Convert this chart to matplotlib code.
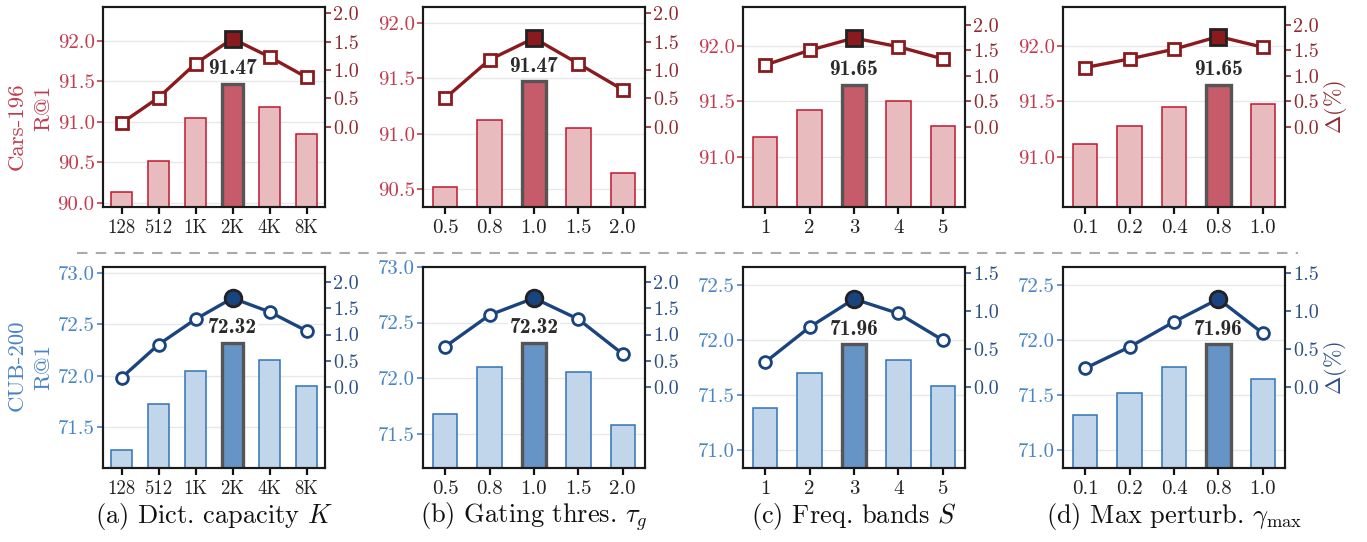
import matplotlib
matplotlib.use("Agg")
import matplotlib.pyplot as plt
from matplotlib.lines import Line2D
import numpy as np

plt.rcParams['font.family'] = ['cmr10', 'DejaVu Serif']
plt.rcParams['mathtext.fontset'] = 'cm'
plt.rcParams['axes.formatter.use_mathtext'] = True
plt.rcParams['axes.unicode_minus'] = False

# ---------------- data ----------------
xlabels_a = ['128', '512', '1K', '2K', '4K', '8K']
xlabels_b = ['0.5', '0.8', '1.0', '1.5', '2.0']
xlabels_c = ['1', '2', '3', '4', '5']
xlabels_d = ['0.1', '0.2', '0.4', '0.8', '1.0']

cars_r1_a = [90.13, 90.52, 91.05, 91.47, 91.18, 90.85]
cars_r1_b = [90.52, 91.12, 91.47, 91.05, 90.65]
cars_r1_c = [91.18, 91.42, 91.65, 91.50, 91.28]
cars_r1_d = [91.12, 91.28, 91.45, 91.65, 91.48]

cars_delta_a = [0.06, 0.51, 1.11, 1.55, 1.23, 0.87]
cars_delta_b = [0.50, 1.18, 1.56, 1.11, 0.65]
cars_delta_c = [1.21, 1.50, 1.74, 1.57, 1.33]
cars_delta_d = [1.16, 1.33, 1.52, 1.77, 1.56]

cub_r1_a = [71.28, 71.72, 72.05, 72.32, 72.15, 71.90]
cub_r1_b = [71.68, 72.10, 72.32, 72.05, 71.58]
cub_r1_c = [71.38, 71.70, 71.96, 71.82, 71.58]
cub_r1_d = [71.32, 71.52, 71.75, 71.96, 71.65]

cub_delta_a = [0.18, 0.81, 1.29, 1.69, 1.43, 1.07]
cub_delta_b = [0.77, 1.37, 1.69, 1.29, 0.63]
cub_delta_c = [0.33, 0.79, 1.16, 0.97, 0.62]
cub_delta_d = [0.25, 0.53, 0.86, 1.16, 0.71]

subtitles = [r'(a) Dict. capacity $K$', r'(b) Gating thres. $\tau_g$',
             r'(c) Freq. bands $S$', r'(d) Max perturb. $\gamma_{\max}$']

# ---------------- styles ----------------
RED = dict(bar='#e8bcbf', bar_edge='#c0172f', hi='#c65b69', line='#8b1a1e',
           ltick='#c23b4f', rtick='#8e2a30', marker='s', ms=9.0, hms=12)
BLUE = dict(bar='#c1d6eb', bar_edge='#3272b8', hi='#6694c6', line='#1a4480',
            ltick='#4a84c4', rtick='#2c4f86', marker='o', ms=8.5, hms=12)

W, H = 1367, 542
fig = plt.figure(figsize=(W / 100, H / 100), dpi=100)

lefts = [103, 423, 743, 1063]
aw = 222
top_row = (7, 207)
bot_row = (267, 468)

top_cfg = [
    (xlabels_a, cars_r1_a, cars_delta_a, (89.95, 92.42), [90.0, 90.5, 91.0, 91.5, 92.0], (-1.42, 2.11), [0, 0.5, 1.0, 1.5, 2.0]),
    (xlabels_b, cars_r1_b, cars_delta_b, (90.34, 92.14), [90.5, 91.0, 91.5, 92.0], (-1.42, 2.11), [0, 0.5, 1.0, 1.5, 2.0]),
    (xlabels_c, cars_r1_c, cars_delta_c, (90.55, 92.35), [91.0, 91.5, 92.0], (-1.58, 2.35), [0, 0.5, 1.0, 1.5, 2.0]),
    (xlabels_d, cars_r1_d, cars_delta_d, (90.55, 92.35), [91.0, 91.5, 92.0], (-1.58, 2.35), [0, 0.5, 1.0, 1.5, 2.0]),
]
bot_cfg = [
    (xlabels_a, cub_r1_a, cub_delta_a, (71.10, 73.06), [71.5, 72.0, 72.5, 73.0], (-1.53, 2.28), [0, 0.5, 1.0, 1.5, 2.0]),
    (xlabels_b, cub_r1_b, cub_delta_b, (71.19, 73.0), [71.5, 72.0, 72.5, 73.0], (-1.53, 2.28), [0, 0.5, 1.0, 1.5, 2.0]),
    (xlabels_c, cub_r1_c, cub_delta_c, (70.84, 72.66), [71.0, 71.5, 72.0, 72.5], (-1.06, 1.58), [0, 0.5, 1.0, 1.5]),
    (xlabels_d, cub_r1_d, cub_delta_d, (70.84, 72.66), [71.0, 71.5, 72.0, 72.5], (-1.06, 1.58), [0, 0.5, 1.0, 1.5]),
]


def panel(col, row_px, cfg, st, is_top):
    labels, r1, delta, ylim, yticks, ylim2, yticks2 = cfg
    y0, y1 = row_px
    ax = fig.add_axes([lefts[col] / W, 1 - y1 / H, aw / W, (y1 - y0) / H])
    x = np.arange(len(labels))
    hi = int(np.argmax(r1))
    faces = [st['hi'] if i == hi else st['bar'] for i in x]
    edges = ['#555555' if i == hi else st['bar_edge'] for i in x]
    lws = [2.4 if i == hi else 1.1 for i in x]
    ax.bar(x, r1, width=0.55, color=faces, edgecolor=edges, linewidth=lws, zorder=2)
    ax.set_xlim(-0.5, len(labels) - 0.5)
    ax.set_ylim(*ylim)
    ax.set_yticks(yticks)
    ax.set_yticklabels([f'{t:.1f}' for t in yticks])
    ax.set_xticks(x)
    ax.set_xticklabels(labels)
    ax.yaxis.grid(True, color='#e8e8e8', lw=1.0, zorder=0)
    ax.set_axisbelow(True)
    ax.tick_params(axis='y', colors=st['ltick'], labelcolor=st['ltick'], length=4, width=1.2, labelsize=15, pad=2)
    ax.tick_params(axis='x', colors='#111111', labelcolor='#222222', length=5, width=1.6,
                   labelsize=13.5 if col == 0 else 15, pad=4)
    for s in ax.spines.values():
        s.set_color('#1a1a1a')
        s.set_linewidth(1.5)
    ax.annotate(f'{r1[hi]:.2f}', (hi, r1[hi]), xytext=(0, 4), textcoords='offset points',
                ha='center', va='bottom', fontfamily='cmb10', fontsize=15.5, color='#2a2a2a',
                bbox=dict(fc='white', ec='none', pad=1.0), zorder=3)

    ax2 = ax.twinx()
    ax2.plot(x, delta, color=st['line'], lw=2.4, marker=st['marker'], ms=st['ms'],
             mfc='white', mec=st['line'], mew=2.0, zorder=3)
    ax2.plot([hi], [delta[hi]], linestyle='none', marker=st['marker'], ms=st['hms'],
             mfc=st['line'], mec='#222222', mew=2.0, zorder=4)
    ax2.set_ylim(*ylim2)
    ax2.set_yticks(yticks2)
    ax2.set_yticklabels([f'{t:.1f}' for t in yticks2])
    ax2.tick_params(axis='y', colors=st['rtick'], labelcolor=st['rtick'], length=4, width=1.2,
                    labelsize=14.5, pad=2)
    for s in ax2.spines.values():
        s.set_color('#1a1a1a')
        s.set_linewidth(1.5)
    if col == 3:
        ax2.set_ylabel(r'$\Delta(\%)$', color=st['rtick'], fontsize=16, labelpad=2)
    if col == 0:
        if is_top:
            ax.text(-0.387, 0.405, 'Cars-196', transform=ax.transAxes, rotation=90,
                    ha='center', va='center', color=st['ltick'], fontsize=16.5)
            ax.text(-0.27, 0.495, 'R@1', transform=ax.transAxes, rotation=90,
                    ha='center', va='center', color=st['ltick'], fontsize=16.5)
        else:
            ax.text(-0.387, 0.512, 'CUB-200', transform=ax.transAxes, rotation=90,
                    ha='center', va='center', color=st['ltick'], fontsize=16.5)
            ax.text(-0.27, 0.502, 'R@1', transform=ax.transAxes, rotation=90,
                    ha='center', va='center', color=st['ltick'], fontsize=16.5)
    return ax


for c in range(4):
    panel(c, top_row, top_cfg[c], RED, True)
    panel(c, bot_row, bot_cfg[c], BLUE, False)
    fig.text((lefts[c] + aw / 2) / W, 1 - 517 / H, subtitles[c], ha='center', va='center',
             fontsize=19, color='#111111')

fig.add_artist(Line2D([77 / W, 1298 / W], [1 - 253 / H, 1 - 253 / H], transform=fig.transFigure,
                      color='#aaaaaa', lw=1.5, linestyle=(0, (5, 4))))

fig.savefig('out.png', dpi=100)
